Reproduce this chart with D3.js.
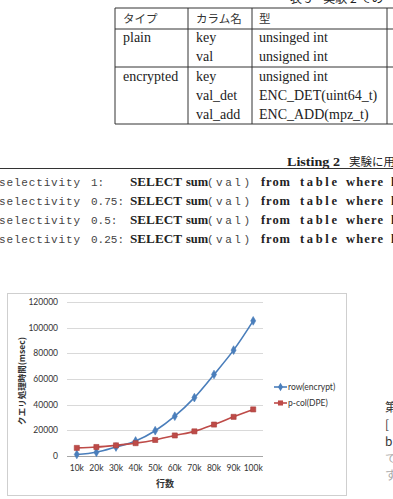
<!DOCTYPE html>
<html>
<head>
<meta charset="utf-8">
<script src="https://cdn.jsdelivr.net/npm/d3@7"></script>
<style>
  body { margin: 0; background: #fff; }
  svg { display: block; }
</style>
</head>
<body>
<div id="page"></div>
<script>
// table 5
var tableHeader = ["タイプ", "カラム名", "型"];
var tableRows = [
    ["plain", "key", "unsinged int"],
    ["", "val", "unsigned int"],
    ["encrypted", "key", "unsigned int"],
    ["", "val_det", "ENC_DET(uint64_t)"],
    ["", "val_add", "ENC_ADD(mpz_t)"]
];

// listing 2
var selectivities = ["1:", "0.75:", "0.5:", "0.25:"];

// chart
var categories = ["10k", "20k", "30k", "40k", "50k", "60k", "70k", "80k", "90k", "100k"];
var rowEncrypt = [1200, 2900, 7000, 11700, 19700, 31000, 45500, 63500, 82500, 105300];
var pcolDPE = [6300, 7000, 8300, 10000, 12500, 16000, 19200, 24500, 30500, 36300];
var yTicks = [0, 20000, 40000, 60000, 80000, 100000, 120000];
var seriesNames = ["row(encrypt)", "p-col(DPE)"];
var colors = ["#4a7ebb", "#be4b48"];

var W = 393, H = 499;
var svg = d3.select("#page").append("svg")
    .attr("width", W)
    .attr("height", H);

var serif = "'Liberation Serif', 'DejaVu Serif', serif";
var jp = "'Noto Sans CJK JP', sans-serif";
var mono = "'Liberation Mono', 'DejaVu Sans Mono', monospace";
var sans = "Lato, 'Noto Sans', sans-serif";

// ---- table ----
svg.append("text")
    .attr("x", 290).attr("y", 3)
    .attr("font-family", jp).attr("font-size", 12).attr("fill", "#222")
    .text("表 5　実験 2 での");

var tbl = svg.append("g");
var colX = [115, 188, 252, 387];
var textX = [123, 196, 259];
[8, 29, 67, 124].forEach(function (y) {
    tbl.append("line").attr("x1", 115).attr("x2", 400).attr("y1", y).attr("y2", y)
        .attr("stroke", "#333").attr("stroke-width", 1);
});
colX.forEach(function (x) {
    tbl.append("line").attr("x1", x).attr("x2", x).attr("y1", 8).attr("y2", 124)
        .attr("stroke", "#333").attr("stroke-width", 1);
});
tbl.selectAll("text.h").data(tableHeader).enter().append("text")
    .attr("x", function (d, i) { return textX[i]; })
    .attr("y", 23)
    .attr("font-family", jp).attr("font-size", 11.5).attr("fill", "#333")
    .text(function (d) { return d; });
var rowY = [42, 61, 81, 100, 119];
tableRows.forEach(function (r, ri) {
    tbl.selectAll(null).data(r).enter().append("text")
        .attr("x", function (d, i) { return textX[i]; })
        .attr("y", rowY[ri])
        .attr("font-family", serif).attr("font-size", 14).attr("fill", "#222")
        .text(function (d) { return d; });
});

// ---- listing ----
svg.append("text").attr("x", 287).attr("y", 166)
    .attr("font-family", serif).attr("font-weight", "bold").attr("font-size", 12.5).attr("fill", "#222")
    .attr("textLength", 53).attr("lengthAdjust", "spacingAndGlyphs")
    .text("Listing 2");
svg.append("text").attr("x", 349).attr("y", 166)
    .attr("font-family", jp).attr("font-size", 11.5).attr("fill", "#222")
    .text("実験に用");
svg.append("line").attr("x1", 0).attr("x2", W).attr("y1", 168.5).attr("y2", 168.5)
    .attr("stroke", "#333").attr("stroke-width", 1);

var listY = [186, 205, 224, 243];
selectivities.forEach(function (s, i) {
    var y = listY[i];
    var g = svg.append("g").attr("fill", "#222");
    g.append("text").attr("x", -1).attr("y", y).attr("font-family", mono).attr("font-size", 11)
        .attr("fill", "#444")
        .attr("textLength", 81).attr("lengthAdjust", "spacing").text("selectivity");
    g.append("text").attr("x", 91).attr("y", y).attr("font-family", mono).attr("font-size", 11)
        .attr("fill", "#444")
        .attr("textLength", s.length * 6.6).attr("lengthAdjust", "spacing").text(s);
    g.append("text").attr("x", 130).attr("y", y).attr("font-family", serif).attr("font-weight", "bold")
        .attr("font-size", 12.5).attr("textLength", 52).attr("lengthAdjust", "spacingAndGlyphs").text("SELECT");
    g.append("text").attr("x", 186).attr("y", y).attr("font-family", serif).attr("font-weight", "bold")
        .attr("font-size", 12.5).text("sum");
    g.append("text").attr("x", 207).attr("y", y).attr("font-family", mono).attr("font-size", 11)
        .attr("fill", "#444")
        .attr("textLength", 43).attr("lengthAdjust", "spacing").text("(val)");
    g.append("text").attr("x", 261).attr("y", y).attr("font-family", serif).attr("font-weight", "bold")
        .attr("font-size", 12.5).attr("textLength", 29).attr("lengthAdjust", "spacing").text("from");
    g.append("text").attr("x", 300).attr("y", y).attr("font-family", serif).attr("font-weight", "bold")
        .attr("font-size", 12.5).attr("textLength", 37).attr("lengthAdjust", "spacing").text("table");
    g.append("text").attr("x", 346).attr("y", y).attr("font-family", serif).attr("font-weight", "bold")
        .attr("font-size", 12.5).attr("textLength", 37).attr("lengthAdjust", "spacing").text("where");
    g.append("text").attr("x", 391).attr("y", y).attr("font-family", serif).attr("font-weight", "bold")
        .attr("font-size", 12.5).text("k");
});

// ---- chart ----
svg.append("rect")
    .attr("x", 7.5).attr("y", 293.5).attr("width", 339).attr("height", 202)
    .attr("fill", "#fff").attr("stroke", "#cfcfcf").attr("stroke-width", 1);

var x = d3.scaleBand().domain(categories).range([67, 263]);
var y = d3.scaleLinear().domain([0, 120000]).range([456, 302]);
var cx = function (d, i) { return x(categories[i]) + x.bandwidth() / 2; };

var grid = svg.append("g");
grid.selectAll("line").data(yTicks).enter().append("line")
    .attr("x1", 67).attr("x2", 263)
    .attr("y1", function (d) { return Math.round(y(d)) + 0.5; })
    .attr("y2", function (d) { return Math.round(y(d)) + 0.5; })
    .attr("stroke", function (d) { return d === 0 ? "#a6a6a6" : "#d9d9d9"; })
    .attr("stroke-width", 1);

svg.append("g").selectAll("text").data(yTicks).enter().append("text")
    .attr("x", 58).attr("y", function (d) { return y(d) + 3; })
    .attr("text-anchor", "end")
    .attr("font-family", sans).attr("font-size", 8.5).attr("fill", "#333")
    .text(function (d) { return d; });

svg.append("g").selectAll("text").data(categories).enter().append("text")
    .attr("x", function (d) { return x(d) + x.bandwidth() / 2; })
    .attr("y", 471)
    .attr("text-anchor", "middle")
    .attr("font-family", sans).attr("font-size", 8.5).attr("fill", "#333")
    .text(function (d) { return d; });

svg.append("text").attr("x", 165).attr("y", 487)
    .attr("text-anchor", "middle")
    .attr("font-family", jp).attr("font-weight", "bold").attr("font-size", 9).attr("fill", "#333")
    .text("行数");

svg.append("text")
    .attr("transform", "translate(25,381) rotate(-90)")
    .attr("text-anchor", "middle")
    .attr("font-family", jp).attr("font-weight", "bold").attr("font-size", 8.5).attr("fill", "#333")
    .text("クエリ処理時間(msec)");

var line = d3.line()
    .x(cx)
    .y(function (d) { return y(d); })
    .curve(d3.curveCatmullRom.alpha(0.5));

var series = [rowEncrypt, pcolDPE];
var diamond = d3.symbol().type(d3.symbolDiamond).size(22);
var square = d3.symbol().type(d3.symbolSquare).size(26);

series.forEach(function (s, k) {
    svg.append("path")
        .attr("d", line(s))
        .attr("fill", "none")
        .attr("stroke", colors[k])
        .attr("stroke-width", 1.6);
    svg.append("g").selectAll("path").data(s).enter().append("path")
        .attr("transform", function (d, i) { return "translate(" + cx(d, i) + "," + y(d) + ")"; })
        .attr("d", k === 0 ? diamond : square)
        .attr("fill", colors[k])
        .attr("stroke", k === 0 ? colors[k] : "#a9403d")
        .attr("stroke-width", 0.6);
});

// legend
var legY = [387, 403];
seriesNames.forEach(function (n, k) {
    var g = svg.append("g").attr("transform", "translate(274," + legY[k] + ")");
    g.append("line").attr("x1", 0).attr("x2", 13).attr("y1", 0).attr("y2", 0)
        .attr("stroke", colors[k]).attr("stroke-width", 1.6);
    g.append("path").attr("transform", "translate(6.5,0)")
        .attr("d", k === 0 ? diamond : square)
        .attr("fill", colors[k]);
    g.append("text").attr("x", 14).attr("y", 3)
        .attr("font-family", sans).attr("font-size", 8.5).attr("fill", "#333")
        .text(n);
});

// right column text (cut at the page edge)
var sideChars = ["第", "[", "b", "で", "す"];
svg.append("g").selectAll("text").data(sideChars).enter().append("text")
    .attr("x", 385)
    .attr("y", function (d, i) { return 412 + i * 17; })
    .attr("font-family", jp).attr("font-size", 12)
    .attr("fill", function (d, i) { return i < 3 ? "#333" : "#aaa"; })
    .text(function (d) { return d; });
</script>
</body>
</html>
